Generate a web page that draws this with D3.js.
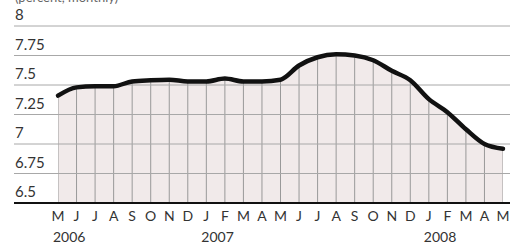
<!DOCTYPE html>
<html>
<head>
<meta charset="utf-8">
<script src="https://cdn.jsdelivr.net/npm/d3@7"></script>
<style>
  body { margin: 0; background: #fff; }
  svg { display: block; font-family: "Lato", "Open Sans", sans-serif; }
</style>
</head>
<body>
<div id="chart"></div>
<script>
// monthly values, May 2006 .. May 2008
var months = ["M","J","J","A","S","O","N","D","J","F","M","A","M","J","J","A","S","O","N","D","J","F","M","A","M"];
var values = [7.41,7.48,7.49,7.49,7.53,7.54,7.545,7.53,7.53,7.555,7.53,7.53,7.545,7.665,7.735,7.76,7.75,7.71,7.62,7.54,7.38,7.27,7.125,7.0,6.96];
var yTicks = [6.5,6.75,7,7.25,7.5,7.75,8];
var years = [{label: "2006", at: 0}, {label: "2007", at: 8}, {label: "2008", at: 20}];

var width = 510, height = 246;
var idx = d3.range(months.length);

var x = d3.scaleLinear()
    .domain([0, months.length - 1])
    .range([58, 503]);

var y = d3.scaleLinear()
    .domain([6.5, 8])
    .range([203, 26]);

var svg = d3.select("#chart").append("svg")
    .attr("width", width)
    .attr("height", height);

// title, mostly cut off at the top in the original
svg.append("text")
    .attr("x", 15).attr("y", 2)
    .style("font-size", "13px")
    .style("fill", "#666")
    .text("(percent, monthly)");

var area = d3.area()
    .x(i => x(i))
    .y0(y(6.5))
    .y1(i => y(values[i]))
    .curve(d3.curveMonotoneX);

var line = d3.line()
    .x(i => x(i))
    .y(i => y(values[i]))
    .curve(d3.curveMonotoneX);

svg.append("clipPath").attr("id", "under")
  .append("path")
    .datum(idx)
    .attr("d", area);

// shaded area
svg.append("path")
    .datum(idx)
    .attr("d", area)
    .attr("fill", "#f1eaea");

// vertical grid, only under the curve
svg.append("g")
    .attr("clip-path", "url(#under)")
  .selectAll("line")
  .data(idx)
  .enter().append("line")
    .attr("x1", i => x(i)).attr("x2", i => x(i))
    .attr("y1", y(6.5)).attr("y2", y(8))
    .attr("stroke", "#999")
    .attr("stroke-width", 1);

// horizontal grid + labels
var grid = svg.append("g");
grid.selectAll("line")
  .data(yTicks.filter(d => d > 6.5))
  .enter().append("line")
    .attr("x1", 14).attr("x2", width)
    .attr("y1", d => y(d)).attr("y2", d => y(d))
    .attr("stroke", "#a8a8a8")
    .attr("stroke-width", 1);

grid.selectAll("text")
  .data(yTicks)
  .enter().append("text")
    .attr("x", 15)
    .attr("y", d => y(d) - 6)
    .style("font-size", "15px")
    .style("fill", "#333")
    .text(d => d);

// baseline
svg.append("line")
    .attr("x1", 14).attr("x2", width)
    .attr("y1", y(6.5)).attr("y2", y(6.5))
    .attr("stroke", "#111")
    .attr("stroke-width", 2);

// data line
svg.append("path")
    .datum(idx)
    .attr("d", line)
    .attr("fill", "none")
    .attr("stroke", "#111")
    .attr("stroke-width", 4.5)
    .attr("stroke-linecap", "round");

// month letters
svg.append("g").selectAll("text")
  .data(idx)
  .enter().append("text")
    .attr("x", i => x(i))
    .attr("y", 221)
    .attr("text-anchor", "middle")
    .style("font-size", "14px")
    .style("fill", "#333")
    .text(i => months[i]);

// years
svg.append("g").selectAll("text")
  .data(years)
  .enter().append("text")
    .attr("x", d => x(d.at) - 5)
    .attr("y", 242)
    .style("font-size", "14px")
    .style("fill", "#333")
    .text(d => d.label);
</script>
</body>
</html>
